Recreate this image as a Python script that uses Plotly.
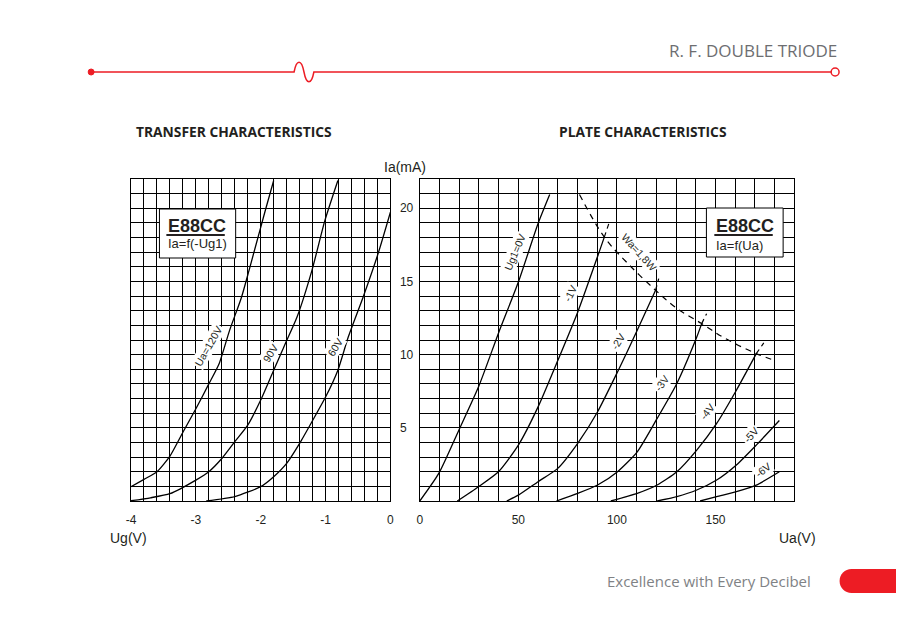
import plotly.graph_objects as go

# ---------------- data ----------------
# Transfer characteristics: Ia (mA) vs Ug1 (V)
ug_120 = [-4.0, -3.8, -3.6, -3.4, -3.2, -3.0, -2.8, -2.64, -2.48, -2.3, -2.18, -2.0, -1.92, -1.8]
ia_120 = [0.98, 1.48, 2.0, 3.07, 4.7, 6.3, 8.0, 9.4, 11.66, 13.87, 15.76, 18.7, 20.0, 21.9]
ug_90 = [-4.0, -3.7, -3.4, -3.0, -2.8, -2.6, -2.4, -2.2, -2.0, -1.8, -1.62, -1.44, -1.21, -1.01, -0.81]
ia_90 = [0.02, 0.22, 0.5, 1.43, 2.0, 2.9, 4.05, 5.18, 6.9, 8.94, 10.76, 12.57, 15.76, 19.17, 21.9]
ug_60 = [-2.84, -2.4, -2.0, -1.8, -1.6, -1.4, -1.2, -1.0, -0.81, -0.65, -0.42, -0.19, 0.0]
ia_60 = [0.0, 0.3, 0.98, 1.66, 2.57, 3.94, 5.5, 7.1, 8.94, 11.2, 13.94, 16.9, 19.73]

# Plate characteristics: Ia (mA) vs Ua (V)
ua_g0 = [0, 9.7, 19.8, 29.8, 40.0, 50.0, 60.0, 65.9]
ia_g0 = [0, 1.9, 4.84, 7.8, 11.5, 14.96, 18.96, 20.94]
ua_g1 = [19.0, 29.8, 39.9, 50.0, 60.0, 70.0, 80.1, 90.7, 93.6]
ia_g1 = [0, 0.98, 2.0, 3.82, 6.43, 9.6, 12.9, 16.9, 18.03]
ua_g2 = [44.1, 50.0, 60.0, 70.0, 80.1, 90.2, 100.3, 110.3, 119.6]
ia_g2 = [0, 0.4, 1.32, 2.23, 3.94, 6.1, 8.82, 11.66, 14.4]
ua_g3 = [69.3, 80.1, 90.2, 100.3, 110.3, 120.4, 130.4, 140.5, 143.0]
ia_g3 = [0, 0.52, 1.09, 2.0, 3.36, 5.64, 8.03, 11.2, 12.12]
ua_g4 = [96.9, 110.3, 120.4, 130.4, 140.5, 150.6, 160.6, 170.7]
ia_g4 = [0, 0.52, 1.09, 2.0, 3.48, 5.3, 7.57, 10.07]
ua_g5 = [120.4, 130.4, 140.5, 150.6, 160.6, 170.7, 182.4]
ia_g5 = [0, 0.3, 0.75, 1.43, 2.46, 3.82, 5.5]
ua_g6 = [142.2, 150.6, 160.6, 170.7, 182.4]
ia_g6 = [0, 0.3, 0.64, 1.09, 2.0]

# short dashed continuations past the dissipation limit
ext_ua = [[93.6, 96.0], [119.6, 121.2], [143.0, 145.5], [170.7, 174.5]]
ext_ia = [[18.03, 19.0], [14.4, 15.19], [12.12, 12.8], [10.07, 10.8]]

# Anode dissipation limit Wa = 1.8 W
ua_wa = [81.0, 93.6, 105.0, 119.6, 130.0, 143.0, 155.0, 170.7, 180.0]
ia_wa = [20.94, 18.03, 16.3, 14.4, 13.2, 12.12, 11.1, 10.07, 9.6]

# curve labels
left_labels = ["Ua=120V", "90V", "60V"]
left_lab_x = [-2.81, -1.85, -0.85]
left_lab_y = [10.6, 10.1, 10.5]
left_lab_ang = [-60, -58, -58]

right_labels = ["Ug1=0V", "-1V", "-2V", "-3V", "-4V", "-5V", "-6V", "Wa=1,8W"]
right_lab_x = [48.3, 76.0, 100.3, 122.9, 145.5, 167.9, 174.0, 111.2]
right_lab_y = [17.0, 14.17, 10.87, 8.03, 6.09, 4.5, 2.11, 17.0]
right_lab_ang = [-67, -63, -58, -55, -52, -48, -37, 48]

x_left_ticks = [-4, -3, -2, -1, 0]
x_left_text = ["-4", "-3", "-2", "-1", "0"]
x_right_ticks = [0, 50, 100, 150]
y_ticks = [5, 10, 15, 20]

# ---------------- figure ----------------
W, H = 900, 618
RED = "#ed1c24"
FONT = "Liberation Sans, Arial, sans-serif"
TXT = "#231f20"


def px(x):
    return x / W


def py(y):
    return 1 - y / H


def P(x, y):
    return f"{px(x):.5f},{py(y):.5f}"


fig = go.Figure()
line_style = dict(color="black", width=1.3, shape="spline", smoothing=0.6)

for xs, ys in [(ug_120, ia_120), (ug_90, ia_90), (ug_60, ia_60)]:
    fig.add_trace(go.Scatter(x=xs, y=ys, mode="lines", line=line_style,
                             xaxis="x", yaxis="y", hoverinfo="skip", showlegend=False))

for xs, ys in [(ua_g0, ia_g0), (ua_g1, ia_g1), (ua_g2, ia_g2), (ua_g3, ia_g3),
               (ua_g4, ia_g4), (ua_g5, ia_g5), (ua_g6, ia_g6)]:
    fig.add_trace(go.Scatter(x=xs, y=ys, mode="lines", line=line_style,
                             xaxis="x2", yaxis="y2", hoverinfo="skip", showlegend=False))

for xs, ys in zip(ext_ua, ext_ia):
    fig.add_trace(go.Scatter(x=xs, y=ys, mode="lines",
                             line=dict(color="black", width=1.2, dash="5px,4px"),
                             xaxis="x2", yaxis="y2", hoverinfo="skip", showlegend=False))

fig.add_trace(go.Scatter(x=ua_wa, y=ia_wa, mode="lines",
                         line=dict(color="black", width=1.2, dash="6px,5px", shape="spline"),
                         xaxis="x2", yaxis="y2", hoverinfo="skip", showlegend=False))

grid = dict(showgrid=True, gridcolor="black", gridwidth=1.2, zeroline=False,
            showline=True, linecolor="black", linewidth=1.2, mirror=True)
tickfont = dict(family=FONT, size=12, color=TXT)

ydom = [py(501), py(179)]

fig.update_layout(
    width=W, height=H, autosize=False,
    margin=dict(l=0, r=0, t=0, b=0),
    paper_bgcolor="white", plot_bgcolor="white",
    showlegend=False,
    xaxis=dict(domain=[px(127.3), px(389.3)], range=[-4, 0], anchor="y",
               tickmode="array", tickvals=x_left_ticks, ticktext=x_left_text,
               minor=dict(tickmode="linear", tick0=-4, dtick=0.2, showgrid=True,
                          gridcolor="black", gridwidth=1.2),
               tickfont=tickfont, ticks="", ticklabelstandoff=7, **grid),
    yaxis=dict(domain=ydom, range=[0, 22], anchor="x", side="right",
               tickmode="array", tickvals=y_ticks,
               minor=dict(tickmode="linear", tick0=0, dtick=1, showgrid=True,
                          gridcolor="black", gridwidth=1.2),
               tickfont=tickfont, ticks="", ticklabelstandoff=6, **grid),
    xaxis2=dict(domain=[px(419), px(797.3)], range=[0, 190], anchor="y2",
                tickmode="array", tickvals=x_right_ticks,
                minor=dict(tickmode="linear", tick0=0, dtick=10, showgrid=True,
                           gridcolor="black", gridwidth=1.2),
                tickfont=tickfont, ticks="", ticklabelstandoff=7, **grid),
    yaxis2=dict(domain=ydom, range=[0, 22], anchor="x2", matches="y",
                tickmode="array", tickvals=y_ticks, showticklabels=False,
                minor=dict(tickmode="linear", tick0=0, dtick=1, showgrid=True,
                           gridcolor="black", gridwidth=1.2),
                ticks="", **grid),
)

annotations = []
for t, x, y, a in zip(left_labels, left_lab_x, left_lab_y, left_lab_ang):
    annotations.append(dict(text=t, x=x, y=y, xref="x", yref="y", showarrow=False,
                            textangle=a, bgcolor="white", borderpad=1,
                            font=dict(family=FONT, size=10.5, color=TXT)))
for t, x, y, a in zip(right_labels, right_lab_x, right_lab_y, right_lab_ang):
    annotations.append(dict(text=t, x=x, y=y, xref="x2", yref="y2", showarrow=False,
                            textangle=a, bgcolor="white", borderpad=1,
                            font=dict(family=FONT, size=10.5, color=TXT)))


def pa(text, x, y, size, family=FONT, color=TXT, xanchor="center", bold=False):
    if bold:
        text = f"<b>{text}</b>"
    return dict(text=text, x=px(x), y=py(y), xref="paper", yref="paper",
                showarrow=False, xanchor=xanchor, yanchor="middle",
                font=dict(family=family, size=size, color=color))


annotations += [
    pa("R. F. DOUBLE TRIODE", 842, 51, 17, family="Open Sans, sans-serif",
       color="#6d6e71", xanchor="right"),
    pa("TRANSFER CHARACTERISTICS", 231, 131, 13.8, family="Open Sans, sans-serif", bold=True),
    pa("PLATE CHARACTERISTICS", 644, 131, 13.8, family="Open Sans, sans-serif", bold=True),
    pa("Ia(mA)", 404, 167, 14),
    pa("Ug(V)", 125, 538, 14),
    pa("Ua(V)", 800, 538, 14),
    pa("E88CC", 163, 226.5, 18, xanchor="left", bold=True),
    pa("Ia=f(-Ug1)", 163, 244, 13, xanchor="left"),
    pa("E88CC", 716.5, 226.5, 18, xanchor="left", bold=True),
    pa("Ia=f(Ua)", 716.5, 245, 13, xanchor="left"),
    pa("Excellence with Every Decibel", 711.5, 581, 15, family="Open Sans, sans-serif",
       color="#808285"),
]
fig.update_layout(annotations=annotations)

shapes = [
    # legend boxes
    dict(type="rect", xref="paper", yref="paper", x0=px(156), x1=px(233), y0=py(258), y1=py(209),
         fillcolor="white", line=dict(color="black", width=1), layer="above"),
    dict(type="rect", xref="paper", yref="paper", x0=px(708.5), x1=px(786), y0=py(257), y1=py(208),
         fillcolor="white", line=dict(color="black", width=1), layer="above"),
    # underlines of E88CC
    dict(type="line", xref="paper", yref="paper", x0=px(163), x1=px(222), y0=py(235), y1=py(235),
         line=dict(color=TXT, width=2), layer="above"),
    dict(type="line", xref="paper", yref="paper", x0=px(716.5), x1=px(775.5), y0=py(235), y1=py(235),
         line=dict(color=TXT, width=2), layer="above"),
    # header red line with a wiggle
    dict(type="path", xref="paper", yref="paper",
         path=(f"M{P(87,72)} L{P(292,72)} C{P(294.5,59)} {P(299.5,59)} {P(302,72)} "
               f"C{P(304.5,85)} {P(309.5,85)} {P(312,72)} L{P(834.5,72)}"),
         line=dict(color=RED, width=1.5)),
    dict(type="circle", xref="paper", yref="paper", x0=px(84), x1=px(90), y0=py(75), y1=py(69),
         fillcolor=RED, line=dict(color=RED, width=1)),
    dict(type="circle", xref="paper", yref="paper", x0=px(834.5), x1=px(842.5), y0=py(76), y1=py(68),
         fillcolor="white", line=dict(color=RED, width=1.5)),
    # footer pill
    dict(type="path", xref="paper", yref="paper",
         path=(f"M{P(900,569)} L{P(855,569)} C{P(848.4,569)} {P(843,574.4)} {P(843,581)} "
               f"C{P(843,587.6)} {P(848.4,593)} {P(855,593)} L{P(900,593)} Z"),
         fillcolor=RED, line=dict(color=RED, width=0)),
]
fig.update_layout(shapes=shapes)

fig.write_html("out.html",
               config={"displayModeBar": False, "responsive": False},
               post_script="document.body.style.margin='0';document.body.style.overflow='hidden';")
